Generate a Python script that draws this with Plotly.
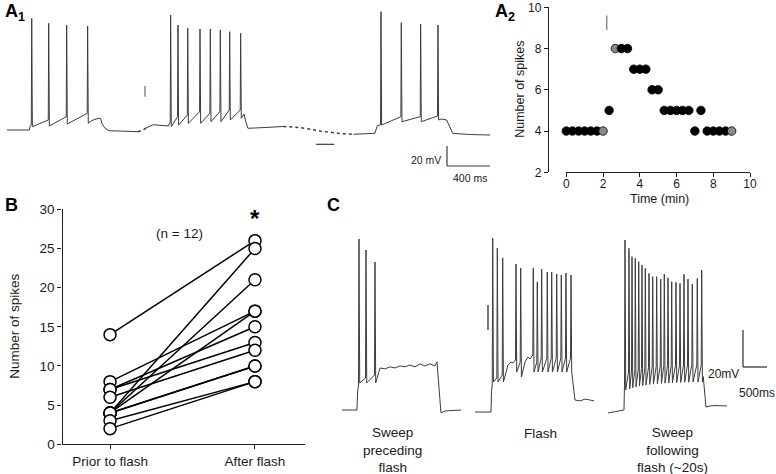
import plotly.graph_objects as go

W, H = 776, 474
FONT = "Liberation Sans, Arial, sans-serif"
AX = "#1e1e1e"
TRACE = "#3c3c3c"
GREY = "#8a8a8a"

# ---------------- A1: continuous recording (ms, mV) ----------------
A1_SUB_T = [0, 207, 216, 790, 849, 870, 885, 911, 950, 1100, 1218, 1255, 1293, 1361, 1500,
            2195, 2204, 2222, 2241, 2400, 2570, 2725, 2911, 3097, 3221, 3422, 3444,
            4040, 4089, 4110, 4145, 4300, 4492]
A1_SUB_V = [-60, -60, -56, -50.5, -48.3, -48.5, -54, -58.3, -60.7, -61.5, -61.7, -60.5, -58, -54.7, -56,
            -45, -44, -52, -58.3, -57.5, -56.5, -57.5, -61, -63.5, -64.3, -63.3, -55.5,
            -49, -50, -55, -63.3, -64.5, -65]
A1_SPK_T = [230, 388, 555, 750, 1522, 1590, 1681, 1795, 1891, 1984, 2071, 2173, 3478, 3667, 3847, 4008]
A1_SPK_PEAK = [51.7, 46.7, 45, 44, 55, 45, 41.7, 41, 41, 40, 38.3, 36.7, 58.3, 47.3, 45.7, 45]
A1_SPK_THR = [-55, -50, -46.7, -43.3, -52, -46.7, -45, -41.7, -43.3, -41.7, -40, -40, -55, -46.7, -46.7, -46]
A1_SPK_TROUGH = [-56.7, -56, -54, -53.3, -56.7, -55, -53.3, -53.3, -51.7, -51.7, -50, -48.3, -55, -51.7, -51.7, -50]
A1_GAPS = [(1218, 1293), (2570, 3221)]   # dotted (not recorded) stretches
A1_FLASH_T = 1283

# ---------------- A2: spikes per sweep ----------------
A2_TIME = [0, 0.33, 0.67, 1.0, 1.33, 1.67, 2.0, 2.33, 2.67, 3.0, 3.33, 3.67, 4.0, 4.33,
           4.67, 5.0, 5.33, 5.67, 6.0, 6.33, 6.67, 7.0, 7.33, 7.67, 8.0, 8.33, 8.67, 9.0]
A2_SPIKES = [4, 4, 4, 4, 4, 4, 4, 5, 8, 8, 8, 7, 7, 7, 6, 6, 5, 5, 5, 5, 5, 4, 5, 4, 4, 4, 4, 4]
A2_SHOWN = [2.0, 2.67, 9.0]   # sweeps shown in A1 (grey)
A2_FLASH = 2.2

# ---------------- B: paired spike counts ----------------
B_GROUPS = ["Prior to flash", "After flash"]
B_PRIOR = [14, 8, 7, 7, 6, 4, 4, 4, 4, 4, 3, 2]
B_AFTER = [26, 17, 15, 13, 12, 25, 21, 17, 10, 10, 8, 8]

# ---------------- C: three sweeps (ms, mV) ----------------
C1_SUB_T = [0, 312, 325, 792, 896, 1000, 1104, 1208, 1312, 1416, 1521, 1625, 1729, 1833, 1937, 1979,
            2062, 2146, 2479]
C1_SUB_V = [-65, -65, -55, -42.3, -42.8, -41.7, -42.3, -41.2, -41.7, -40.7, -41.7, -40.1, -41.2, -40.1,
            -41.2, -39.0, -66.6, -65.5, -65]
C1_SPK_T = [354, 500, 687]
C1_SPK_PEAK = [27.3, 21.4, 14.9]
C1_SPK_THR = [-51.5, -47.7, -46.1]
C1_SPK_TROUGH = [-50.4, -50.4, -50.4]

C2_SUB_T = [0, 333, 345, 687, 750, 792, 1042, 1104, 1146, 2083, 2187, 2291, 2396, 2479]
C2_SUB_V = [-66.1, -66.1, -55, -40.7, -39.1, -39.6, -39.1, -36.4, -37.4, -59.6, -60.1, -59.1, -59.6, -60.1]
C2_SPK_T = [369, 465, 577, 854, 952, 1214, 1298, 1389, 1506, 1598, 1702, 1798, 1895, 2000]
C2_SPK_PEAK = [27.9, 22.5, 17.1, 13.8, 11.7, 11.7, 4.1, 11.1, 9.5, 9.5, 8.4, 7.9, 9, 7.9]
C2_SPK_THR = [-51.5, -47.7, -46.1, -38, -39.1, -35.3, -39.1, -37, -37, -37, -37, -37, -37, -37]
C2_SPK_TROUGH = [-49.9, -49.9, -49.9, -44.5, -47.2, -44.5, -44.5, -44.5, -44.5, -44.5, -44.5, -44.5,
                 -44.5, -44.5]
C2_FLASH_T = 271

C3_SUB_T = [0, 333, 1985, 2041, 2125, 2229, 2479]
C3_SUB_V = [-66.6, -65, -47, -63.4, -62.8, -62.6, -62.8]
C3_SPK_T = [354, 437, 500, 569, 640, 708, 777, 854, 931, 1014, 1098, 1173, 1250, 1327, 1416, 1500,
            1583, 1666, 1756, 1860, 1952]
C3_SPK_PEAK = [26.8, 22.3, 17.8, 16.9, 15.1, 13.3, 11.5, 8.8, 7, 7, 5.7, 8.3, 6.4, 4.3, 4, 3.4,
               8.3, 5.7, 3, 6.1, 10.6]
C3_SPK_THR = [-51, -44.5, -44, -43.5, -43, -42.6, -42.3, -42, -41.8, -41.6, -41.4, -41.2, -41, -41,
              -40.9, -40.8, -40.7, -40.7, -40.7, -40.7, -40.7]
C3_SPK_TROUGH = [-54.2, -53.6, -53, -52.5, -52, -51.8, -51.5, -51.2, -51, -50.8, -50.6, -50.5, -50.4,
                 -50.3, -50.2, -50.1, -50, -50, -49.9, -49.9, -49.9]
C_LABELS = ["Sweep<br>preceding<br>flash", "Flash", "Sweep<br>following<br>flash (~20s)"]


def build_trace(sub_t, sub_v, spk_t, spk_peak, spk_thr, spk_trough, pre, post):
    pts = list(zip(sub_t, sub_v))
    for t, pk, th, tr in zip(spk_t, spk_peak, spk_thr, spk_trough):
        pts += [(t - pre, th), (t, pk), (t + post, tr)]
    pts.sort()
    return [p[0] for p in pts], [p[1] for p in pts]


def split_gaps(t, v, gaps):
    def inside(x, strict):
        return any((a < x < b) if strict else (a <= x <= b) for a, b in gaps)
    solid = [None if inside(x, True) else y for x, y in zip(t, v)]
    dotted = [y if inside(x, False) else None for x, y in zip(t, v)]
    return solid, dotted


fig = go.Figure()

# A1
a1_t, a1_v = build_trace(A1_SUB_T, A1_SUB_V, A1_SPK_T, A1_SPK_PEAK, A1_SPK_THR, A1_SPK_TROUGH, 4, 6)
a1_solid, a1_dotted = split_gaps(a1_t, a1_v, A1_GAPS)
fig.add_trace(go.Scatter(x=a1_t, y=a1_solid, mode="lines", line=dict(color=TRACE, width=1),
                         xaxis="x", yaxis="y", hoverinfo="skip"))
fig.add_trace(go.Scatter(x=a1_t, y=a1_dotted, mode="lines", line=dict(color=TRACE, width=1.5, dash="dot"),
                         xaxis="x", yaxis="y", hoverinfo="skip"))

# A2
a2_colors = [GREY if t in A2_SHOWN else "black" for t in A2_TIME]
fig.add_trace(go.Scatter(x=A2_TIME, y=A2_SPIKES, mode="markers", cliponaxis=False,
                         marker=dict(size=8.5, color=a2_colors, line=dict(color="black", width=0.8)),
                         xaxis="x2", yaxis="y2"))

# B
bx, by = [], []
for p, a in zip(B_PRIOR, B_AFTER):
    bx += [0, 1, None]
    by += [p, a, None]
fig.add_trace(go.Scatter(x=bx, y=by, mode="lines", line=dict(color="black", width=1.5),
                         xaxis="x3", yaxis="y3", cliponaxis=False))
fig.add_trace(go.Scatter(x=[0] * len(B_PRIOR) + [1] * len(B_AFTER), y=B_PRIOR + B_AFTER,
                         mode="markers", cliponaxis=False,
                         marker=dict(size=12, color="white", line=dict(color="black", width=1.5)),
                         xaxis="x3", yaxis="y3"))

# C
sweeps = [
    (C1_SUB_T, C1_SUB_V, C1_SPK_T, C1_SPK_PEAK, C1_SPK_THR, C1_SPK_TROUGH),
    (C2_SUB_T, C2_SUB_V, C2_SPK_T, C2_SPK_PEAK, C2_SPK_THR, C2_SPK_TROUGH),
    (C3_SUB_T, C3_SUB_V, C3_SPK_T, C3_SPK_PEAK, C3_SPK_THR, C3_SPK_TROUGH),
]
for i, sw in enumerate(sweeps):
    ct, cv = build_trace(*sw, 10, 15)
    fig.add_trace(go.Scatter(x=ct, y=cv, mode="lines", line=dict(color=TRACE, width=1),
                             xaxis=f"x{4 + i}", yaxis=f"y{4 + i}", hoverinfo="skip"))

hidden = dict(visible=False, showgrid=False, zeroline=False)
axis_style = dict(showline=True, linecolor=AX, linewidth=1.3, ticks="outside", ticklen=4,
                  tickwidth=1.3, tickcolor=AX, showgrid=False, zeroline=False)

c_ydom = [1 - 430 / H, 1 - 215 / H]
c_yrng = [-75.8, 40.3]

fig.update_layout(
    width=W, height=H, margin=dict(l=0, r=0, t=0, b=0),
    template="none", paper_bgcolor="white", plot_bgcolor="white", showlegend=False,
    font=dict(family=FONT, color="#1a1a1a"),
    xaxis=dict(domain=[0, 500 / W], range=[-65, 4585], **hidden),
    yaxis=dict(domain=[1 - 200 / H, 1], range=[-130, 70], **hidden),
    xaxis2=dict(domain=[566.3 / W, 750 / W], range=[0, 10], anchor="y2", ticklabelstandoff=-4,
                tickvals=[0, 2, 4, 6, 8, 10], tickfont=dict(size=12), **axis_style),
    yaxis2=dict(domain=[1 - 172.3 / H, 1 - 7.3 / H], range=[2, 10], anchor="free", position=548 / W,
                tickvals=[2, 4, 6, 8, 10], tickfont=dict(size=12), **axis_style),
    xaxis3=dict(domain=[62.5 / W, 305 / W], range=[-0.328, 1.345], anchor="y3",
                tickvals=[0, 1], ticktext=B_GROUPS, tickfont=dict(size=13.5), **axis_style),
    yaxis3=dict(domain=[1 - 444.3 / H, 1 - 209.3 / H], range=[0, 30], anchor="x3",
                tickvals=[0, 5, 10, 15, 20, 25, 30], tickfont=dict(size=13.5), **axis_style),
    xaxis4=dict(domain=[337.2 / W, 466.8 / W], range=[-100, 2600], anchor="y4", **hidden),
    yaxis4=dict(domain=c_ydom, range=c_yrng, anchor="x4", **hidden),
    xaxis5=dict(domain=[470.2 / W, 599.8 / W], range=[-100, 2600], anchor="y5", **hidden),
    yaxis5=dict(domain=c_ydom, range=c_yrng, anchor="x5", **hidden),
    xaxis6=dict(domain=[603.2 / W, 1], range=[-100, 3500], anchor="y6", **hidden),
    yaxis6=dict(domain=c_ydom, range=c_yrng, anchor="x6", **hidden),
)

shapes = [
    # A1 flash marker, break bar, scale bar
    dict(type="line", xref="x", yref="y", x0=A1_FLASH_T, x1=A1_FLASH_T, y0=-16, y1=-26.7,
         line=dict(color=GREY, width=1.5)),
    dict(type="line", xref="x", yref="y", x0=2874, x1=3044, y0=-74.3, y1=-74.3,
         line=dict(color=TRACE, width=1.2)),
    dict(type="line", xref="x", yref="y", x0=4092, x1=4092, y0=-96, y1=-76, line=dict(color=TRACE, width=1.2)),
    dict(type="line", xref="x", yref="y", x0=4092, x1=4492, y0=-96, y1=-96, line=dict(color=TRACE, width=1.2)),
    # A2 flash marker
    dict(type="line", xref="x2", yref="y2", x0=A2_FLASH, x1=A2_FLASH, y0=8.9, y1=9.6,
         line=dict(color=GREY, width=1.5)),
    # C flash marker and scale bar
    dict(type="line", xref="x5", yref="y5", x0=C2_FLASH_T, x1=C2_FLASH_T, y0=-8.3, y1=-21.8,
         line=dict(color="#777", width=2)),
    dict(type="line", xref="x6", yref="y6", x0=2812, x1=2812, y0=-41.8, y1=-21.8, line=dict(color="#555", width=1.5)),
    dict(type="line", xref="x6", yref="y6", x0=2812, x1=3312, y0=-41.8, y1=-41.8, line=dict(color="#555", width=1.5)),
]

ann = []


def label(text, x, y, size, **kw):
    d = dict(text=text, x=x, y=y, xref="paper", yref="paper", showarrow=False,
             xanchor="center", yanchor="middle",
             font=dict(size=size, family=FONT, color="#1a1a1a"))
    d.update(kw)
    ann.append(d)


bold = dict(size=18, family=FONT, color="black", weight="bold")
label("A<sub>1</sub>", 3 / W, 1 + 1 / H, 18, xanchor="left", yanchor="top", font=bold)
label("A<sub>2</sub>", 493 / W, 1 + 1 / H, 18, xanchor="left", yanchor="top", font=bold)
label("B", 3 / W, 1 - 193 / H, 18, xanchor="left", yanchor="top", font=bold)
label("C", 325 / W, 1 - 193 / H, 18, xanchor="left", yanchor="top", font=bold)

label("Number of spikes", 520 / W, 1 - 89.8 / H, 12.5, textangle=-90)
label("Time (min)", 659 / W, 1 - 199 / H, 12.5)
label("Number of spikes", 15 / W, 1 - 326.8 / H, 13.5, textangle=-90)

ann.append(dict(text="(n = 12)", x=0.476, y=26.9, xref="x3", yref="y3", showarrow=False,
                font=dict(size=13.5, family=FONT, color="#1a1a1a")))
ann.append(dict(text="<b>*</b>", x=1, y=28.8, xref="x3", yref="y3", showarrow=False,
                font=dict(size=24, family=FONT, color="black")))

# scale bar labels
ann.append(dict(text="20 mV", x=4055, y=-90, xref="x", yref="y", xanchor="right", showarrow=False,
                font=dict(size=10.5, family=FONT, color="#1a1a1a")))
ann.append(dict(text="400 ms", x=4306, y=-108, xref="x", yref="y", showarrow=False,
                font=dict(size=10.5, family=FONT, color="#1a1a1a")))
ann.append(dict(text="20mV", x=2764, y=-45.7, xref="x6", yref="y6", xanchor="right", showarrow=False,
                font=dict(size=12, family=FONT, color="#1a1a1a")))
ann.append(dict(text="500ms", x=3097, y=-55.8, xref="x6", yref="y6", showarrow=False,
                font=dict(size=12, family=FONT, color="#1a1a1a")))

# sweep captions
for cx, txt in zip([392, 540, 672], C_LABELS):
    if "<br>" in txt:
        label(txt, cx / W, 1 - 450 / H, 13.5)
    else:
        label(txt, cx / W, 1 - 433 / H, 13.5)

fig.update_layout(shapes=shapes, annotations=ann)
# the page body has a default 8px margin; drop it so the figure sits at the window origin
fig.write_html("out.html", config={"displayModeBar": False},
               post_script="document.body.style.margin='0';document.body.style.overflow='hidden';")
